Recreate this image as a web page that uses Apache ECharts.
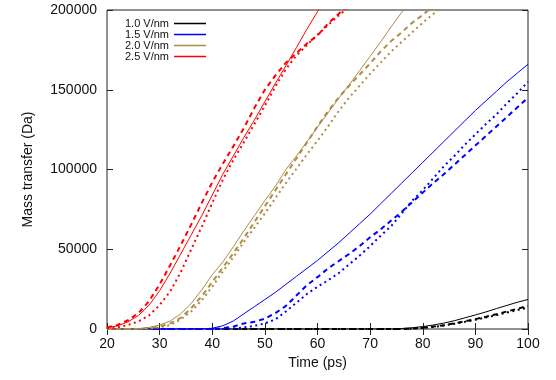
<!DOCTYPE html>
<html>
<head>
<meta charset="utf-8">
<script src="https://cdn.jsdelivr.net/npm/echarts@6/dist/echarts.min.js"></script>
<style>
html,body{margin:0;padding:0;background:#fff;}
#chart{width:556px;height:380px;}
</style>
</head>
<body>
<div id="chart"></div>
<script>
// Time (ps)
const time = [20,22,24,26,28,30,32,34,36,38,40,42,44,46,48,50,52,54,56,58,60,62,64,66,68,70,72,74,76,78,80,82,84,86,88,90,92,94,96,98,100];
const xTicks = [20,30,40,50,60,70,80,90,100];
const yTicks = [0,50000,100000,150000,200000];
const legendNames = ['1.0 V/nm','1.5 V/nm','2.0 V/nm','2.5 V/nm'];

// 1.0 V/nm
const v10_solid  = [0,0,0,0,0,0,0,0,0,0,0,0,0,0,0,0,0,0,0,0,0,0,0,0,0,0,0,0,300,800,1500,2500,3700,5200,7000,8800,10700,12800,14800,16800,18500];
const v10_dashed = [0,0,0,0,0,0,0,0,0,0,0,0,0,0,0,0,0,0,0,0,0,0,0,0,0,0,0,0,0,300,800,1500,2400,3500,4800,6200,7700,9300,11000,12700,14500];
const v10_dotted = [0,0,0,0,0,0,0,0,0,0,0,0,0,0,0,0,0,0,0,0,0,0,0,0,0,0,0,0,0,200,700,1300,2200,3300,4500,5800,7200,8700,10300,11900,13500];
// 1.5 V/nm
const v15_solid  = [0,0,0,0,0,0,0,0,0,0,500,2000,5000,9500,14000,18500,23000,28000,33000,38000,43000,48500,54000,60000,66000,72000,78500,85000,91500,98000,104500,111000,117500,124000,130500,137000,143000,149000,155000,160500,166000];
const v15_dashed = [0,0,0,0,0,0,0,0,0,0,0,500,1500,3500,4500,6500,10000,14500,21000,27500,32500,38000,42500,47000,52000,57500,62500,68000,73500,79500,85500,91500,97000,103000,109000,115000,121000,127000,133000,139000,145000];
const v15_dotted = [0,0,0,0,0,0,0,0,0,0,0,0,300,1000,2000,3500,6000,11000,16500,22000,26500,30500,35000,40500,46000,52000,58500,64500,72500,80500,87000,94500,102000,108500,115500,122000,128500,134500,141500,148000,155000];
// 2.0 V/nm
const v20_solid  = [0,0,0,200,1000,2500,5000,9500,16000,24500,34000,42000,51500,61500,71000,80500,89500,100000,108500,117500,126500,135500,144500,153000,162000,171000,180000,189500,198500,207500,null,null,null,null,null,null,null,null,null,null,null];
const v20_dashed = [0,0,0,100,500,1500,3500,7000,13000,20500,29500,38500,47500,57000,67000,77000,87000,97000,107000,117000,127000,136500,145000,152500,159500,166500,174000,180500,186000,192000,197000,202500,null,null,null,null,null,null,null,null,null];
const v20_dotted = [0,0,0,0,300,1000,2500,6000,11000,18000,26500,36000,45000,54500,63500,72500,82000,91500,100500,109500,118000,127000,136500,145000,152500,160000,167000,174000,180000,186000,192000,197500,203000,null,null,null,null,null,null,null,null];
// 2.5 V/nm
const v25_solid  = [800,2000,4500,8500,15000,24000,35000,47000,59000,71000,84000,97000,108500,120000,131000,142500,154000,165000,176500,188000,199000,210000,null,null,null,null,null,null,null,null,null,null,null,null,null,null,null,null,null,null,null];
const v25_dashed = [1000,2500,5500,10000,17500,28000,40000,52500,65500,79000,92000,103500,114500,126000,138500,150000,159000,167000,173000,179000,184000,191500,197500,204000,null,null,null,null,null,null,null,null,null,null,null,null,null,null,null,null,null];
const v25_dotted = [400,1000,2500,4800,8500,15000,23500,35500,50000,64000,79000,93500,106000,117000,128500,140000,152000,163000,171500,178000,184500,190500,196500,202000,null,null,null,null,null,null,null,null,null,null,null,null,null,null,null,null,null];

const colors = {'1.0':'#000000','1.5':'#0000ff','2.0':'#ad8c45','2.5':'#ff0000'};
const pairs = vals => time.map((t,i) => [t, vals[i]]);

function mk(name, vals, color, kind) {
  const ls = {color: color, width: 1, type: 'solid', cap: 'butt'};
  if (kind === 'dashed') { ls.width = 2; ls.type = [5,4]; }
  if (kind === 'dotted') { ls.width = 2; ls.type = [2,3.5]; }
  return {
    name: name, type: 'line', data: pairs(vals), symbol: 'none', showSymbol: false,
    lineStyle: ls, itemStyle: {color: color}, clip: true, animation: false,
    xAxisIndex: 0, yAxisIndex: 0, connectNulls: false
  };
}

const series = [
  mk('1.0 V/nm', v10_solid, colors['1.0'], 'solid'),
  mk('1.0 dashed', v10_dashed, colors['1.0'], 'dashed'),
  mk('1.0 dotted', v10_dotted, colors['1.0'], 'dotted'),
  mk('1.5 V/nm', v15_solid, colors['1.5'], 'solid'),
  mk('1.5 dashed', v15_dashed, colors['1.5'], 'dashed'),
  mk('1.5 dotted', v15_dotted, colors['1.5'], 'dotted'),
  mk('2.0 V/nm', v20_solid, colors['2.0'], 'solid'),
  mk('2.0 dashed', v20_dashed, colors['2.0'], 'dashed'),
  mk('2.0 dotted', v20_dotted, colors['2.0'], 'dotted'),
  mk('2.5 V/nm', v25_solid, colors['2.5'], 'solid'),
  mk('2.5 dashed', v25_dashed, colors['2.5'], 'dashed'),
  mk('2.5 dotted', v25_dotted, colors['2.5'], 'dotted')
];

const FONT = "'Liberation Sans', Arial, Helvetica, sans-serif";
const tickStyle = {show: true, inside: true, length: 6, lineStyle: {color: '#222', width: 1}};

const chart = echarts.init(document.getElementById('chart'), null, {renderer: 'canvas'});
chart.setOption({
  animation: false,
  backgroundColor: '#ffffff',
  grid: {left: 107, right: 28, top: 10, bottom: 51, show: true, borderColor: '#222', borderWidth: 1, backgroundColor: 'transparent'},
  legend: {
    data: legendNames, left: 125, top: 18, orient: 'vertical', align: 'right', padding: 0,
    itemWidth: 32, itemHeight: 11, itemGap: 0,
    itemStyle: {color: 'transparent', borderColor: 'transparent', borderWidth: 0, opacity: 0},
    lineStyle: {width: 1.5},
    textStyle: {fontSize: 11, fontFamily: FONT, color: '#111', lineHeight: 11},
    selectedMode: false
  },
  xAxis: [
    {type: 'value', min: xTicks[0], max: xTicks[xTicks.length-1], interval: 10, position: 'bottom',
     axisLine: {show: false}, axisTick: tickStyle, splitLine: {show: false},
     axisLabel: {fontSize: 14, fontFamily: FONT, color: '#111', margin: 8},
     name: 'Time (ps)', nameLocation: 'middle', nameGap: 26,
     nameTextStyle: {fontSize: 14, fontFamily: FONT, color: '#111'}},
    {type: 'value', min: xTicks[0], max: xTicks[xTicks.length-1], interval: 10, position: 'top',
     axisLine: {show: false}, axisTick: tickStyle, splitLine: {show: false}, axisLabel: {show: false}}
  ],
  yAxis: [
    {type: 'value', min: yTicks[0], max: yTicks[yTicks.length-1], interval: 50000, position: 'left',
     axisLine: {show: false}, axisTick: tickStyle, splitLine: {show: false},
     axisLabel: {fontSize: 14, fontFamily: FONT, color: '#111', margin: 10, formatter: v => String(v)},
     name: 'Mass transfer (Da)', nameLocation: 'middle', nameGap: 72, nameRotate: 90,
     nameTextStyle: {fontSize: 14, fontFamily: FONT, color: '#111'}},
    {type: 'value', min: yTicks[0], max: yTicks[yTicks.length-1], interval: 50000, position: 'right',
     axisLine: {show: false}, axisTick: tickStyle, splitLine: {show: false}, axisLabel: {show: false}}
  ],
  series: series
});
</script>
</body>
</html>
